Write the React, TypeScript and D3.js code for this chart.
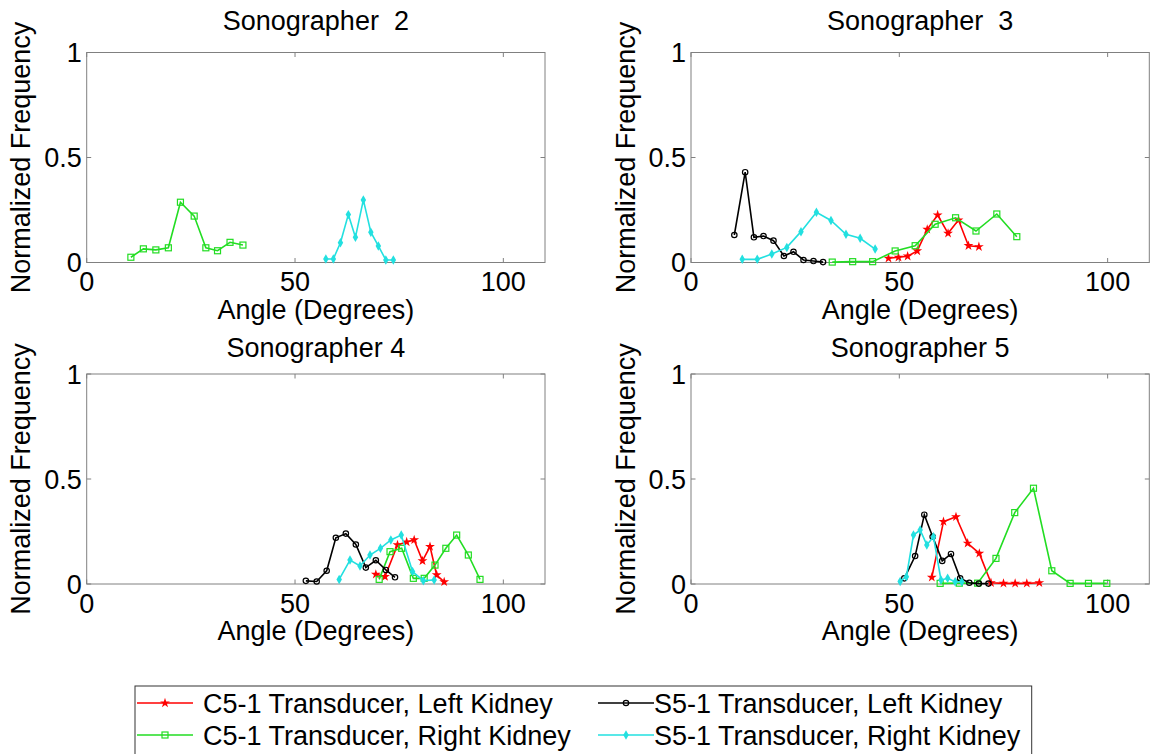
import { line, scaleLinear, symbol, symbolDiamond, symbolStar } from 'd3';

const FONT = '"Liberation Sans", Arial, Helvetica, sans-serif';

// x ticks / y ticks shared by every panel
const angleTicks = [0, 50, 100];
const freqTicks = [0, 0.5, 1];
const freqTickLabels = ['0', '0.5', '1'];

// Sonographer 2
const s2C5RightAngle = [10.6, 13.6, 16.6, 19.6, 22.5, 25.8, 28.6, 31.4, 34.4, 37.5];
const s2C5RightFreq = [0.025, 0.065, 0.06, 0.07, 0.287, 0.221, 0.07, 0.056, 0.096, 0.083];
const s2S5RightAngle = [57.4, 59.2, 60.9, 62.8, 64.5, 66.4, 68.2, 70, 71.8, 73.6];
const s2S5RightFreq = [0.017, 0.017, 0.094, 0.228, 0.12, 0.298, 0.144, 0.079, 0.012, 0.012];

// Sonographer 3
const s3C5LeftAngle = [47.4, 49.8, 52.0, 54.3, 56.7, 59.2, 61.7, 64.2, 66.6, 69.1];
const s3C5LeftFreq = [0.02, 0.025, 0.03, 0.055, 0.158, 0.226, 0.139, 0.202, 0.08, 0.075];
const s3C5RightAngle = [33.9, 38.8, 43.6, 49.0, 53.8, 58.6, 63.5, 68.4, 73.4, 78.2];
const s3C5RightFreq = [0.002, 0.004, 0.004, 0.055, 0.08, 0.182, 0.213, 0.15, 0.231, 0.123];
const s3S5LeftAngle = [10.4, 13.0, 15.1, 17.4, 19.8, 22.3, 24.6, 27.0, 29.4, 31.7];
const s3S5LeftFreq = [0.131, 0.43, 0.12, 0.126, 0.104, 0.031, 0.051, 0.012, 0.007, 0.002];
const s3S5RightAngle = [12.3, 15.9, 19.4, 23, 26.4, 30.1, 33.6, 37.2, 40.6, 44.2];
const s3S5RightFreq = [0.015, 0.015, 0.04, 0.072, 0.147, 0.239, 0.2, 0.134, 0.115, 0.064];

// Sonographer 4
const s4C5LeftAngle = [69.4, 71.6, 74.6, 76.8, 78.6, 80.6, 82.4, 84, 85.8];
const s4C5LeftFreq = [0.046, 0.035, 0.186, 0.2, 0.21, 0.11, 0.178, 0.043, 0.01];
const s4C5RightAngle = [70.2, 72.8, 75.6, 78.4, 81, 83.6, 86.2, 88.8, 91.6, 94.4];
const s4C5RightFreq = [0.022, 0.154, 0.17, 0.027, 0.027, 0.09, 0.17, 0.233, 0.138, 0.022];
const s4S5LeftAngle = [52.6, 55.2, 57.6, 59.8, 62.2, 64.6, 67, 69.4, 71.8, 74];
const s4S5LeftFreq = [0.015, 0.012, 0.063, 0.22, 0.24, 0.188, 0.078, 0.113, 0.067, 0.032];
const s4S5RightAngle = [60.6, 63.2, 65.6, 68, 70.5, 73, 75.5, 78.2, 80.8, 83.4];
const s4S5RightFreq = [0.022, 0.114, 0.086, 0.138, 0.17, 0.21, 0.233, 0.059, 0.016, 0.019];

// Sonographer 5
const s5C5LeftAngle = [57.8, 60.6, 63.6, 66.4, 69.2, 72, 75, 77.8, 80.6, 83.6];
const s5C5LeftFreq = [0.032, 0.297, 0.32, 0.194, 0.146, 0.006, 0.003, 0.003, 0.003, 0.006];
const s5C5RightAngle = [59.8, 64.4, 68.8, 73.2, 77.7, 82.2, 86.6, 91, 95.4, 99.8];
const s5C5RightFreq = [0.003, 0.004, 0.004, 0.122, 0.34, 0.456, 0.063, 0.003, 0.003, 0.003];
const s5S5LeftAngle = [51.2, 53.8, 56, 58, 60.3, 62.4, 64.6, 66.8, 69.1, 71.4];
const s5S5LeftFreq = [0.027, 0.133, 0.33, 0.225, 0.11, 0.143, 0.027, 0.006, 0.002, 0.002];
const s5S5RightAngle = [50.2, 51.7, 53.4, 55, 56.6, 58.2, 60, 61.6, 63.4, 65];
const s5S5RightFreq = [0.012, 0.035, 0.233, 0.257, 0.186, 0.225, 0.019, 0.027, 0.011, 0.011];

type MarkerKind = 'star' | 'square' | 'circle' | 'diamond';

interface SeriesStyle {
  label: string;
  color: string;
  marker: MarkerKind;
}

const styles: Record<string, SeriesStyle> = {
  c5Left: { label: 'C5-1 Transducer, Left Kidney', color: '#ff0000', marker: 'star' },
  c5Right: { label: 'C5-1 Transducer, Right Kidney', color: '#22dd22', marker: 'square' },
  s5Left: { label: 'S5-1 Transducer, Left Kidney', color: '#000000', marker: 'circle' },
  s5Right: { label: 'S5-1 Transducer, Right Kidney', color: '#22e0e0', marker: 'diamond' },
};

interface Series {
  key: string;
  angle: number[];
  freq: number[];
}

interface PanelProps {
  title: string;
  left: number;
  top: number;
  titleGap: number;
  series: Series[];
}

const panelWidth = 458.3;
const panelHeight = 210;

const starPath = symbol().type(symbolStar).size(30)() as string;
const diamondPath = symbol().type(symbolDiamond).size(26)() as string;

const Marker = ({ kind, x, y, color }: { kind: MarkerKind; x: number; y: number; color: string }) => {
  if (kind === 'star') return <path d={starPath} transform={`translate(${x},${y})`} fill={color} />;
  if (kind === 'diamond') return <path d={diamondPath} transform={`translate(${x},${y})`} fill={color} />;
  if (kind === 'square')
    return <rect x={x - 3} y={y - 3} width={6} height={6} fill="none" stroke={color} strokeWidth={1.2} />;
  return <circle cx={x} cy={y} r={2.7} fill="none" stroke={color} strokeWidth={1.2} />;
};

const Panel = ({ title, left, top, titleGap, series }: PanelProps) => {
  const right = left + panelWidth;
  const bottom = top + panelHeight;
  const x = scaleLinear().domain([0, 110]).range([left, right]);
  const y = scaleLinear().domain([0, 1]).range([bottom, top]);
  const path = line<[number, number]>()
    .x((d) => x(d[0]))
    .y((d) => y(d[1]));

  return (
    <g fontFamily={FONT} fontSize={27} fill="#000">
      <text x={(left + right) / 2} y={top - titleGap} textAnchor="middle" style={{ whiteSpace: 'pre' }}>
        {title}
      </text>
      <rect x={left} y={top} width={panelWidth} height={panelHeight} fill="#fff" stroke="#808080" strokeWidth={1} />
      {angleTicks.map((t) => (
        <g key={`xt-${t}`}>
          <line x1={x(t)} x2={x(t)} y1={bottom} y2={bottom - 4.5} stroke="#808080" />
          <line x1={x(t)} x2={x(t)} y1={top} y2={top + 4.5} stroke="#808080" />
          <text x={x(t)} y={bottom + 28.5} textAnchor="middle">
            {t}
          </text>
        </g>
      ))}
      {freqTicks.map((t, i) => (
        <g key={`yt-${t}`}>
          <line x1={left} x2={left + 4.5} y1={y(t)} y2={y(t)} stroke="#808080" />
          <line x1={right} x2={right - 4.5} y1={y(t)} y2={y(t)} stroke="#808080" />
          <text x={left - 5} y={y(t) + 9.7} textAnchor="end">
            {freqTickLabels[i]}
          </text>
        </g>
      ))}
      <text x={(left + right) / 2} y={bottom + 56} textAnchor="middle">
        Angle (Degrees)
      </text>
      <text
        transform={`translate(${left - 56.5},${(top + bottom) / 2}) rotate(-90)`}
        textAnchor="middle"
      >
        Normalized Frequency
      </text>
      {series.map((s) => {
        const st = styles[s.key];
        const pts = s.angle.map((a, i) => [a, s.freq[i]] as [number, number]);
        return (
          <g key={s.key}>
            <path d={path(pts) ?? ''} fill="none" stroke={st.color} strokeWidth={1.6} />
            {pts.map((p, i) => (
              <Marker key={i} kind={st.marker} x={x(p[0])} y={y(p[1])} color={st.color} />
            ))}
          </g>
        );
      })}
    </g>
  );
};

const Legend = () => {
  const entries = [
    { key: 'c5Left', lx: 137, tx: 203, cy: 703 },
    { key: 'c5Right', lx: 137, tx: 203, cy: 735 },
    { key: 's5Left', lx: 598, tx: 654, cy: 703 },
    { key: 's5Right', lx: 598, tx: 654, cy: 735 },
  ];
  return (
    <g fontFamily={FONT} fontSize={27}>
      <rect x={135} y={686} width={896.7} height={90} fill="#fff" stroke="#333" strokeWidth={1} />
      {entries.map((e) => {
        const st = styles[e.key];
        return (
          <g key={e.key}>
            <line x1={e.lx} x2={e.lx + 56} y1={e.cy} y2={e.cy} stroke={st.color} strokeWidth={1.6} />
            <Marker kind={st.marker} x={e.lx + 28} y={e.cy} color={st.color} />
            <text x={e.tx} y={e.cy + 9.7} fill="#000">
              {st.label}
            </text>
          </g>
        );
      })}
    </g>
  );
};

const panels: PanelProps[] = [
  {
    title: 'Sonographer  2',
    left: 86.7,
    top: 52.5,
    titleGap: 23,
    series: [
      { key: 'c5Right', angle: s2C5RightAngle, freq: s2C5RightFreq },
      { key: 's5Right', angle: s2S5RightAngle, freq: s2S5RightFreq },
    ],
  },
  {
    title: 'Sonographer  3',
    left: 691,
    top: 52.5,
    titleGap: 23,
    series: [
      { key: 'c5Left', angle: s3C5LeftAngle, freq: s3C5LeftFreq },
      { key: 'c5Right', angle: s3C5RightAngle, freq: s3C5RightFreq },
      { key: 's5Left', angle: s3S5LeftAngle, freq: s3S5LeftFreq },
      { key: 's5Right', angle: s3S5RightAngle, freq: s3S5RightFreq },
    ],
  },
  {
    title: 'Sonographer 4',
    left: 86.7,
    top: 374,
    titleGap: 17,
    series: [
      { key: 'c5Left', angle: s4C5LeftAngle, freq: s4C5LeftFreq },
      { key: 'c5Right', angle: s4C5RightAngle, freq: s4C5RightFreq },
      { key: 's5Left', angle: s4S5LeftAngle, freq: s4S5LeftFreq },
      { key: 's5Right', angle: s4S5RightAngle, freq: s4S5RightFreq },
    ],
  },
  {
    title: 'Sonographer 5',
    left: 691,
    top: 374,
    titleGap: 17,
    series: [
      { key: 'c5Left', angle: s5C5LeftAngle, freq: s5C5LeftFreq },
      { key: 'c5Right', angle: s5C5RightAngle, freq: s5C5RightFreq },
      { key: 's5Left', angle: s5S5LeftAngle, freq: s5S5LeftFreq },
      { key: 's5Right', angle: s5S5RightAngle, freq: s5S5RightFreq },
    ],
  },
];

export default function App() {
  return (
    <svg
      width={1150}
      height={754}
      style={{ position: 'absolute', left: 0, top: 0, background: '#fff', display: 'block' }}
    >
      <rect width={1150} height={754} fill="#fff" />
      {panels.map((p) => (
        <Panel key={p.title} {...p} />
      ))}
      <Legend />
    </svg>
  );
}
